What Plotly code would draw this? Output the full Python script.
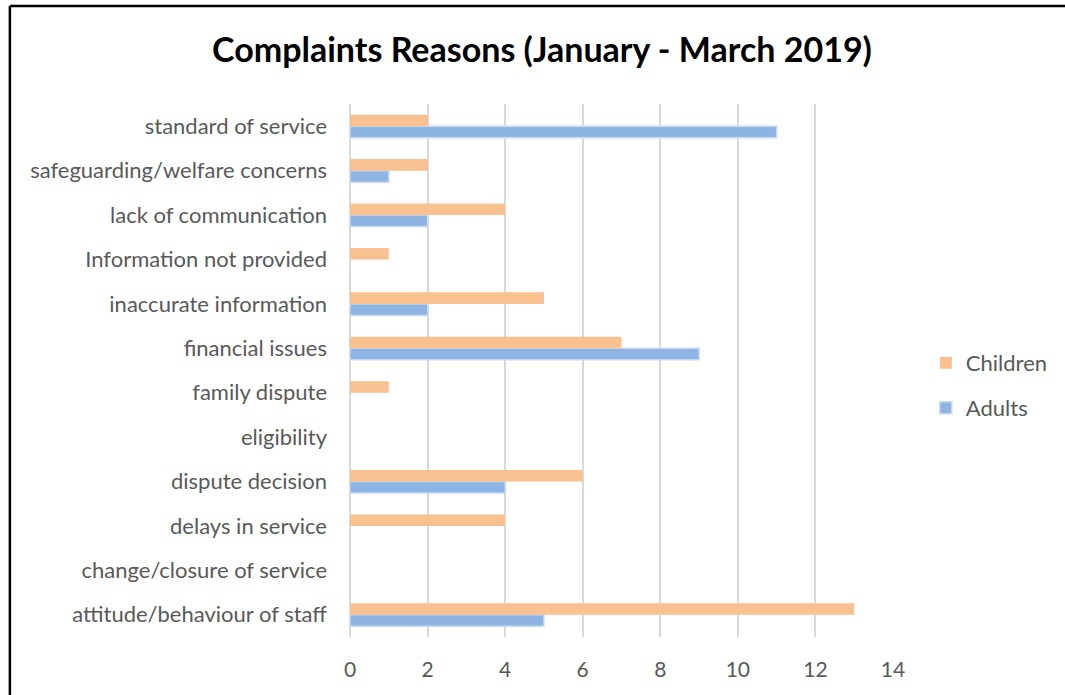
import plotly.graph_objects as go

categories = [
    "attitude/behaviour of staff",
    "change/closure of service",
    "delays in service",
    "dispute decision",
    "eligibility",
    "family dispute",
    "financial issues",
    "inaccurate information",
    "Information not provided",
    "lack of communication",
    "safeguarding/welfare concerns",
    "standard of service",
]
children = [13, 0, 4, 6, 0, 1, 7, 5, 1, 4, 2, 2]
adults = [5, 0, 0, 4, 0, 0, 9, 2, 0, 2, 1, 11]
x_ticks = [0, 2, 4, 6, 8, 10, 12, 14]

FONT = "Lato, Open Sans, sans-serif"
W, H = 1065, 695
ML, MR, MT, MB = 350, 169, 104, 58
PW, PH = W - ML - MR, H - MT - MB


def nz(vals):
    return [v if v else None for v in vals]


fig = go.Figure()
fig.add_trace(go.Bar(
    y=categories, x=nz(adults), orientation="h", name="Adults",
    marker=dict(color="#8EB4E3", line=dict(color="#C6D9F1", width=1.5)),
    legend="legend2", showlegend=True,
))
fig.add_trace(go.Bar(
    y=categories, x=nz(children), orientation="h", name="Children",
    marker=dict(color="#F9C090", line=dict(width=0)),
    legend="legend", showlegend=True,
))


def px_x(p):
    return (p - ML) / PW


def px_y(p):
    return 1 - (p - MT) / PH


legend_font = dict(family=FONT, size=22, color="#595959")

fig.update_layout(
    width=W, height=H,
    margin=dict(l=ML, r=MR, t=MT, b=MB),
    paper_bgcolor="white", plot_bgcolor="white",
    showlegend=True,
    barmode="group", bargap=0.48, bargroupgap=0,
    title=dict(text="<b>Complaints Reasons (January - March 2019)</b>",
               font=dict(family=FONT, size=34, color="black"),
               x=542 / W, xanchor="center",
               y=1 - 50 / H, yanchor="middle"),
    xaxis=dict(range=[0, 14], tickvals=x_ticks, showgrid=True,
               gridcolor="#D9D9D9", gridwidth=1.5, zeroline=True,
               zerolinecolor="#D9D9D9", zerolinewidth=1.5, showline=False,
               tickfont=dict(family=FONT, size=21, color="#595959"),
               ticks="", ticklabelstandoff=18, fixedrange=True),
    yaxis=dict(categoryorder="array", categoryarray=categories,
               showgrid=False, zeroline=False, showline=False, ticks="",
               tickfont=dict(family=FONT, size=22, color="#595959"),
               ticklabelstandoff=22, fixedrange=True),
    legend=dict(x=px_x(929), y=px_y(363), xanchor="left", yanchor="middle",
                font=legend_font, bgcolor="rgba(0,0,0,0)", itemwidth=30),
    legend2=dict(x=px_x(929), y=px_y(408), xanchor="left", yanchor="middle",
                 font=legend_font, bgcolor="rgba(0,0,0,0)", itemwidth=30),
    shapes=[
        dict(type="line", xref="paper", yref="paper",
             x0=px_x(8), x1=px_x(8), y0=px_y(6), y1=px_y(700),
             line=dict(color="black", width=2.5)),
        dict(type="line", xref="paper", yref="paper",
             x0=px_x(8), x1=px_x(1070), y0=px_y(6), y1=px_y(6),
             line=dict(color="black", width=2.5)),
    ],
)

fig.write_html("out.html",
               config={"displayModeBar": False},
               post_script="document.body.style.margin='0';document.body.style.overflow='hidden';")
